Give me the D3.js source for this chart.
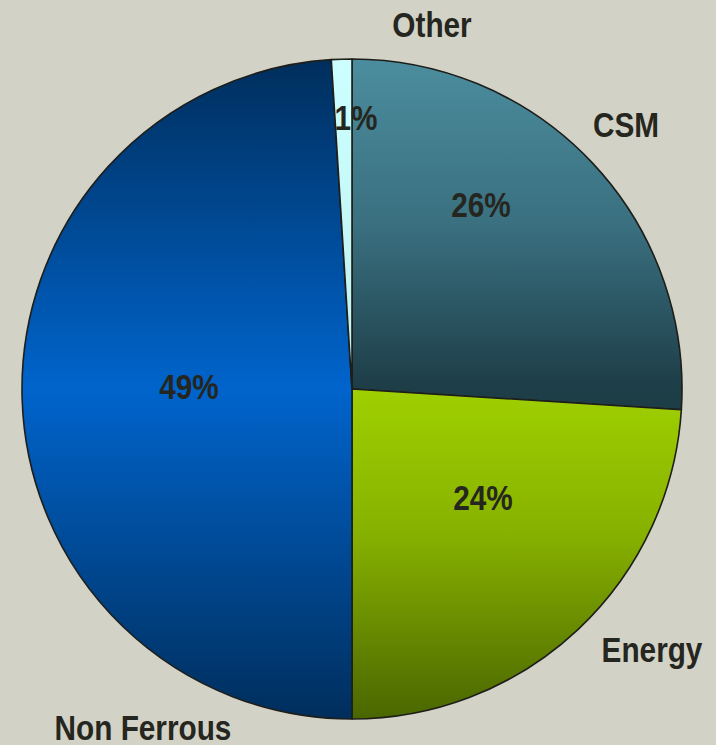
<!DOCTYPE html>
<html>
<head>
<meta charset="utf-8">
<script src="https://cdn.jsdelivr.net/npm/d3@7"></script>
<style>
  html, body { margin: 0; padding: 0; background: #d2d2c6; }
  svg { display: block; }
  text { font-family: "Liberation Sans", Arial, sans-serif; fill: #262620; }
</style>
</head>
<body>
<svg id="chart" width="716" height="745"></svg>
<script>
// Segment share of the business, clockwise from 12 o'clock
const categories = ["CSM", "Energy", "Non Ferrous", "Other"];
const shares = [26, 24, 49, 1];
const percentLabels = ["26%", "24%", "49%", "1%"];

const W = 716, H = 745;
const cx = 352, cy = 389, R = 330;
const FONT_SIZE = 35;
const CONDENSE = 0.85;   // narrow face: squeeze glyphs horizontally

// Where each name and percentage sits around the pie (text centre, baseline)
const nameAnchor = {
  "CSM":         [626, 137],
  "Energy":      [652, 662],
  "Non Ferrous": [143, 740],
  "Other":       [432, 37]
};
const pctAnchor = {
  "CSM":         [481, 217],
  "Energy":      [483, 510],
  "Non Ferrous": [189, 399],
  "Other":       [356, 130]
};

// Vertical colour ramps for each slice (offset, colour)
const ramps = {
  "CSM":         [[0, "#4b8d9e"], [0.5, "#3a7080"], [1, "#1d3d47"]],
  "Energy":      [[0, "#9fd000"], [0.45, "#86b000"], [1, "#4a6600"]],
  "Non Ferrous": [[0, "#002e5c"], [0.5, "#0064cc"], [1, "#002e5c"]],
  "Other":       [[0, "#ccffff"], [1, "#c2f4f4"]]
};
const rampSpan = {
  "CSM":         [cy - R, cy],
  "Energy":      [cy, cy + R],
  "Non Ferrous": [cy - R, cy + R],
  "Other":       [cy - R, cy - R + 250]
};

const svg = d3.select("#chart");
const defs = svg.append("defs");

categories.forEach((c, i) => {
  const g = defs.append("linearGradient")
    .attr("id", "grad" + i)
    .attr("gradientUnits", "userSpaceOnUse")
    .attr("x1", 0).attr("x2", 0)
    .attr("y1", rampSpan[c][0] - cy).attr("y2", rampSpan[c][1] - cy);
  ramps[c].forEach(([o, col]) => g.append("stop").attr("offset", o).attr("stop-color", col));
});

const pie = d3.pie().sort(null).value(d => d.v);
const arcs = pie(categories.map((c, i) => ({ c, v: shares[i], label: percentLabels[i], i })));
const arc = d3.arc().innerRadius(0).outerRadius(R);

const g = svg.append("g").attr("transform", `translate(${cx},${cy})`);

g.selectAll("path")
  .data(arcs)
  .join("path")
  .attr("d", arc)
  .attr("fill", d => `url(#grad${d.data.i})`)
  .attr("stroke", "#1e1e1a")
  .attr("stroke-width", 1.6)
  .attr("stroke-linejoin", "round");

function placeText(cls, anchors, textOf) {
  svg.selectAll("g." + cls)
    .data(arcs)
    .join("g")
    .attr("class", cls)
    .attr("transform", d => {
      const [x, y] = anchors[d.data.c];
      return `translate(${x},${y}) scale(${CONDENSE},1)`;
    })
    .append("text")
    .attr("text-anchor", "middle")
    .attr("font-size", FONT_SIZE)
    .attr("font-weight", "bold")
    .text(textOf);
}

placeText("pct", pctAnchor, d => d.data.label);
placeText("name", nameAnchor, d => d.data.c);
</script>
</body>
</html>
